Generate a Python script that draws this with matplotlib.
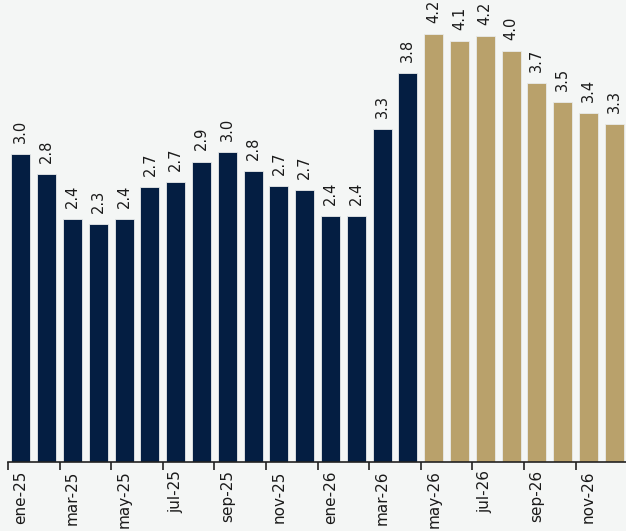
import matplotlib
matplotlib.use("Agg")
import matplotlib.pyplot as plt

months = ["ene-25", "feb-25", "mar-25", "abr-25", "may-25", "jun-25", "jul-25", "ago-25",
          "sep-25", "oct-25", "nov-25", "dic-25", "ene-26", "feb-26", "mar-26", "abr-26",
          "may-26", "jun-26", "jul-26", "ago-26", "sep-26", "oct-26", "nov-26", "dic-26"]
values = [3.01, 2.82, 2.38, 2.33, 2.38, 2.69, 2.74, 2.94, 3.03, 2.85, 2.70, 2.66,
          2.41, 2.41, 3.26, 3.81, 4.19, 4.12, 4.17, 4.02, 3.71, 3.52, 3.41, 3.31]
labels = ["3.0", "2.8", "2.4", "2.3", "2.4", "2.7", "2.7", "2.9", "3.0", "2.8", "2.7", "2.7",
          "2.4", "2.4", "3.3", "3.8", "4.2", "4.1", "4.2", "4.0", "3.7", "3.5", "3.4", "3.3"]
n_observed = 16  # ene-25 .. abr-26 observed, rest forecast

NAVY = "#041e42"
GOLD = "#b9a16b"
BG = "#f4f6f5"

plt.rcParams["font.family"] = ["DejaVu Sans"]

fig = plt.figure(figsize=(6.26, 5.31), dpi=100, facecolor=BG)
ax = fig.add_axes([8 / 626, 69 / 531, 619.2 / 626, 462 / 531], facecolor=BG)

x = list(range(len(months)))
colors = [NAVY if i < n_observed else GOLD for i in x]
ax.bar(x, values, width=0.74, color=colors, edgecolor="#e8ebea", linewidth=0.6)

for xi, v, lab in zip(x, values, labels):
    ax.annotate(lab, (xi, v), xytext=(0, 8), textcoords="offset points",
                rotation=90, ha="center", va="bottom", fontsize=10.5,
                color="#1a1a1a", annotation_clip=False)

ax.set_xlim(-0.5, len(months) - 0.5)
ax.set_ylim(0, 462 / 102.2)

# ticks between categories every two months, labels at bar centres
ax.set_xticks([i - 0.5 for i in range(0, len(months), 2)])
ax.set_xticklabels([])
ax.set_xticks(list(range(0, len(months), 2)), minor=True)
ax.set_xticklabels(months[::2], minor=True, rotation=90, fontsize=11, color="#1a1a1a")
ax.tick_params(axis="x", which="major", length=6, width=1.2, color="#222222", direction="out")
ax.tick_params(axis="x", which="minor", length=0, pad=6)
ax.set_yticks([])

for side in ["top", "right", "left"]:
    ax.spines[side].set_visible(False)
ax.spines["bottom"].set_color("#222222")
ax.spines["bottom"].set_linewidth(1.2)

fig.savefig("out.png", dpi=100, facecolor=BG)
